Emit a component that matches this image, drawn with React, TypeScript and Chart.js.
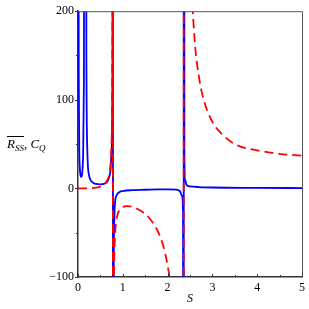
import React, { useEffect, useRef } from "react";
import { Chart, registerables } from "chart.js";

Chart.register(...registerables);

// C_Q (red dashed)
const sRed = [0, 0.1, 0.2, 0.3, 0.4, 0.5, 0.6, 0.65, 0.7, 0.74, 0.76, 0.77, 0.775, 0.779, 0.781, 0.785, 0.79, 0.8, 0.82, 0.85, 0.9, 1.0, 1.1, 1.2, 1.3, 1.4, 1.5, 1.6, 1.7, 1.8, 1.9, 2.0, 2.1, 2.2, 2.3, 2.359, 2.361, 2.4, 2.5, 2.6, 2.7, 2.8, 3.0, 3.2, 3.5, 4.0, 4.5, 5.0];
const cqValues = [0, 0, 0.1, 0.3, 0.8, 2, 5.2, 9, 17, 40, 90, 190, 400, 3000, -3000, -420, -215, -112, -61, -39, -27, -21, -20, -20.7, -22.5, -25.3, -29, -34, -41, -50.5, -64.5, -87, -126, -215, -600, -5000, 5000, 940, 270, 170, 126, 101, 75, 62, 50, 43, 39, 37];

// R_SS (blue solid)
const sBlue = [0.004, 0.01, 0.018, 0.028, 0.04, 0.055, 0.075, 0.095, 0.115, 0.13, 0.145, 0.16, 0.175, 0.19, 0.21, 0.25, 0.3, 0.4, 0.5, 0.6, 0.67, 0.72, 0.75, 0.77, 0.779, 0.781, 0.79, 0.8, 0.82, 0.86, 0.93, 1.0, 1.2, 1.5, 1.8, 2.0, 2.2, 2.27, 2.32, 2.345, 2.359, 2.361, 2.375, 2.39, 2.42, 2.5, 2.7, 3.0, 4.0, 5.0];
const rssValues = [5000, 400, 120, 45, 24, 15, 13, 18, 40, 110, 600, 5000, 600, 120, 40, 14, 8, 5, 4.5, 5.5, 9, 18, 40, 150, 3000, -3000, -200, -60, -20, -8, -4, -3, -2, -1.5, -1, -1, -1.5, -3, -8, -30, -3000, 3000, 40, 10, 4, 2.3, 1.5, 1.0, 0.6, 0.4];

const xMajorTicks = [0, 1, 2, 3, 4, 5];
const xMinorTicks = [0.5, 1.5, 2.5, 3.5, 4.5];
const yMajorTicks = [-100, 0, 100, 200];
const yMinorTicks = [-50, 50, 150];

const SERIF = "'Liberation Serif', 'DejaVu Serif', serif";

const framePlugin = {
  id: "frameAndTitles",
  afterDraw(chart: any) {
    const { ctx, chartArea: a, scales } = chart;
    const xs = scales.x;
    const ys = scales.y;
    ctx.save();
    // top & right frame
    ctx.strokeStyle = "#555";
    ctx.lineWidth = 1;
    ctx.beginPath();
    ctx.moveTo(a.left, a.top + 0.5);
    ctx.lineTo(a.right + 0.5, a.top + 0.5);
    ctx.lineTo(a.right + 0.5, a.bottom);
    ctx.stroke();
    // ticks
    ctx.strokeStyle = "#333";
    ctx.beginPath();
    for (const v of yMajorTicks) {
      const y = Math.round(ys.getPixelForValue(v)) + 0.5;
      ctx.moveTo(a.left - 3, y);
      ctx.lineTo(a.left, y);
    }
    for (const v of yMinorTicks) {
      const y = Math.round(ys.getPixelForValue(v)) + 0.5;
      ctx.moveTo(a.left - 2, y);
      ctx.lineTo(a.left, y);
    }
    for (const v of xMajorTicks) {
      const x = Math.round(xs.getPixelForValue(v)) + 0.5;
      ctx.moveTo(x, a.bottom);
      ctx.lineTo(x, a.bottom - 3);
    }
    for (const v of xMinorTicks) {
      const x = Math.round(xs.getPixelForValue(v)) + 0.5;
      ctx.moveTo(x, a.bottom);
      ctx.lineTo(x, a.bottom - 2);
    }
    ctx.stroke();

    // x title
    ctx.fillStyle = "#000";
    ctx.textBaseline = "alphabetic";
    ctx.textAlign = "center";
    ctx.font = `italic 12px ${SERIF}`;
    ctx.fillText("S", (a.left + a.right) / 2, 302);

    // y title: overline R_SS, C_Q
    ctx.textAlign = "left";
    let x = 7;
    const base = 148;
    ctx.font = `italic 13px ${SERIF}`;
    ctx.fillText("R", x, base);
    x += ctx.measureText("R").width;
    ctx.font = `italic 9px ${SERIF}`;
    ctx.fillText("SS", x, base + 3);
    x += ctx.measureText("SS").width;
    ctx.strokeStyle = "#000";
    ctx.lineWidth = 1;
    ctx.beginPath();
    ctx.moveTo(7, 136.5);
    ctx.lineTo(x, 136.5);
    ctx.stroke();
    ctx.font = `13px ${SERIF}`;
    ctx.fillText(", ", x, base);
    x += ctx.measureText(", ").width;
    ctx.font = `italic 13px ${SERIF}`;
    ctx.fillText("C", x, base);
    x += ctx.measureText("C").width;
    ctx.font = `italic 9px ${SERIF}`;
    ctx.fillText("Q", x, base + 3);
    ctx.restore();
  },
};

export default function App() {
  const ref = useRef<HTMLCanvasElement | null>(null);
  useEffect(() => {
    if (!ref.current) return;
    const chart = new Chart(ref.current, {
      type: "line",
      data: {
        datasets: [
          {
            label: "C_Q",
            data: sRed.map((s, i) => ({ x: s, y: cqValues[i] })),
            borderColor: "rgb(255,0,0)",
            borderWidth: 1.8,
            borderDash: [9, 5],
            pointRadius: 0,
            cubicInterpolationMode: "monotone",
            fill: false,
            order: 1,
          },
          {
            label: "R_SS",
            data: sBlue.map((s, i) => ({ x: s, y: rssValues[i] })),
            borderColor: "rgb(0,0,255)",
            borderWidth: 1.8,
            pointRadius: 0,
            cubicInterpolationMode: "monotone",
            fill: false,
            order: 2,
          },
        ],
      },
      options: {
        animation: false,
        responsive: true,
        maintainAspectRatio: false,
        layout: { padding: { left: 0, right: 6, top: 10, bottom: 0 } },
        plugins: { legend: { display: false }, tooltip: { enabled: false } },
        scales: {
          x: {
            type: "linear",
            min: 0,
            max: 5,
            grid: { display: false, drawTicks: false, tickLength: 0 },
            border: { display: true, color: "#333", width: 1.5 },
            ticks: {
              stepSize: 1,
              padding: 4,
              color: "#000",
              maxRotation: 0,
              font: { family: SERIF, size: 12 },
            },
            afterFit: (s: any) => {
              s.height = 32;
            },
          },
          y: {
            type: "linear",
            min: -100,
            max: 200,
            grid: { display: false, drawTicks: false, tickLength: 0 },
            border: { display: true, color: "#333", width: 1.5 },
            ticks: {
              stepSize: 100,
              padding: 4,
              color: "#000",
              font: { family: SERIF, size: 12 },
              callback: (v: any) => (Number(v) < 0 ? "\u2212" + Math.abs(Number(v)) : String(v)),
            },
            afterFit: (s: any) => {
              s.width = 78;
            },
          },
        },
      },
      plugins: [framePlugin],
    });
    return () => chart.destroy();
  }, []);
  return (
    <div style={{ position: "fixed", left: 0, top: 0, width: 309, height: 309, background: "#fff" }}>
      <canvas ref={ref} />
    </div>
  );
}
